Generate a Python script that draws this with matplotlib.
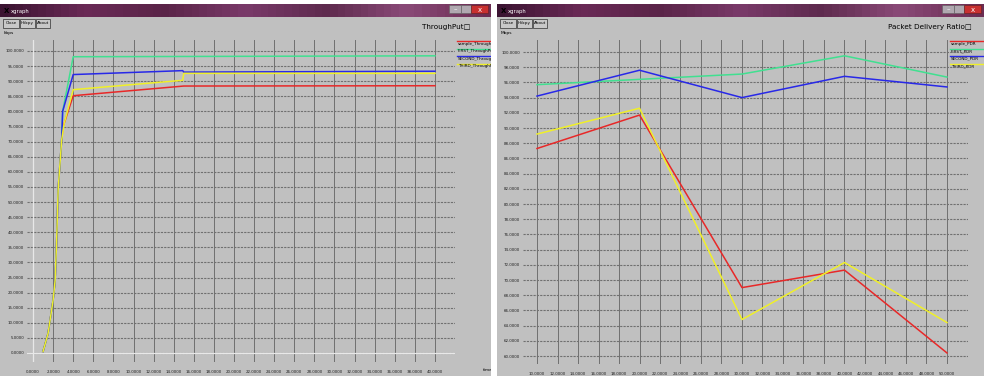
"""Two xgraph windows: ThroughPut vs time and Packet Delivery Ratio."""

import matplotlib
matplotlib.use("Agg")
import matplotlib.pyplot as plt
import matplotlib.patches as mpatches
from matplotlib.colors import LinearSegmentedColormap
import numpy as np

W, H = 984, 376

# ---- data: ThroughPut (kbps) vs time ----
RAMP_X = [1.0, 1.5, 2.0, 2.2, 2.35, 2.5, 2.85]
RAMP_Y = [0.5, 6.5, 17.5, 24.0, 37.0, 54.0, 70.5]

SAMPLE_TP_X = RAMP_X + [3.0, 4.0, 15.0, 40.0]
SAMPLE_TP_Y = RAMP_Y + [75.0, 85.2, 88.4, 88.5]
FIRST_TP_X = RAMP_X + [2.95, 4.0, 40.0]
FIRST_TP_Y = RAMP_Y + [80.0, 98.1, 98.4]
SECOND_TP_X = RAMP_X + [2.95, 4.0, 14.9, 15.0, 40.0]
SECOND_TP_Y = RAMP_Y + [80.0, 92.2, 93.5, 93.0, 93.3]
THIRD_TP_X = RAMP_X + [3.1, 4.0, 14.9, 15.0, 40.0]
THIRD_TP_Y = RAMP_Y + [76.0, 87.2, 90.3, 92.6, 92.6]

TP_XTICKS = list(range(0, 41, 2))
TP_YTICKS = list(range(0, 101, 5))

# ---- data: Packet Delivery Ratio vs nodes ----
PDR_X = [10, 20, 30, 40, 50]
SAMPLE_PDR = [87.3, 91.7, 69.0, 71.3, 60.4]
FIRST_PDR = [95.7, 96.4, 97.1, 99.5, 96.7]
SECOND_PDR = [94.2, 97.6, 94.0, 96.8, 95.4]
THIRD_PDR = [89.2, 92.6, 64.8, 72.3, 64.4]

PDR_XTICKS = list(range(10, 51, 2))
PDR_YTICKS = list(range(60, 101, 2))

TP_NAMES = ["sample_ThroughPut", "FIRST_ThroughPut", "SECOND_ThroughPut", "THIRD_ThroughPut"]
PDR_NAMES = ["sample_PDR", "FIRST_PDR", "SECOND_PDR", "THIRD_PDR"]

COLORS = ["#e82828", "#40e090", "#2828e8", "#f0f028"]
GRAY = "#c0c0c0"
GRID = "#707070"
FONT = 2.9

TITLEBAR = LinearSegmentedColormap.from_list(
    "titlebar", ["#3c1432", "#6a2a56", "#5a2448", "#7a3a6a", "#5e2a4e", "#8a4a78", "#6a2c52"])

fig = plt.figure(figsize=(W / 100, H / 100), dpi=100)
fig.patch.set_facecolor("white")

bg = fig.add_axes([0, 0, 1, 1])
bg.axis("off")


def px_axes(left, top, right, bottom):
    return fig.add_axes([left / W, 1 - bottom / H, (right - left) / W, (bottom - top) / H])


def draw_window(x0, x1, z, ylab, names):
    bg.add_patch(mpatches.Rectangle((x0, 4), x1 - x0, H - 4, facecolor=GRAY,
                                    edgecolor="none", zorder=z))
    grad = np.linspace(0, 1, 64).reshape(1, -1)
    bg.imshow(grad, extent=(x0, x1, 17, 4), aspect="auto", cmap=TITLEBAR,
              zorder=z + 0.1)
    bg.text(x0 + 4, 11, "X", fontsize=5, color="black", fontweight="bold",
            va="center", zorder=z + 0.2)
    bg.text(x0 + 11, 11, "xgraph", fontsize=3.8, color="white", va="center", zorder=z + 0.2)
    # window controls
    bg.add_patch(mpatches.Rectangle((x1 - 42, 5), 12, 8, facecolor="#b0a8b0",
                                    edgecolor="#606060", lw=0.4, zorder=z + 0.2))
    bg.add_patch(mpatches.Rectangle((x1 - 30, 5), 10, 8, facecolor="#b0a8b0",
                                    edgecolor="#606060", lw=0.4, zorder=z + 0.2))
    bg.add_patch(mpatches.Rectangle((x1 - 20, 5), 17, 8, facecolor="#c83030",
                                    edgecolor="#602020", lw=0.4, zorder=z + 0.2))
    bg.text(x1 - 36, 9.5, "\u2013", fontsize=5, color="white", ha="center", va="center",
            zorder=z + 0.3)
    bg.text(x1 - 11.5, 9.5, "x", fontsize=5, color="white", ha="center", va="center",
            zorder=z + 0.3)
    # buttons
    for bx, bw, lab in [(3, 16, "Close"), (20, 15, "Hdcpy"), (36, 14, "About")]:
        bg.add_patch(mpatches.Rectangle((x0 + bx, 18.5), bw, 9, facecolor="#c8c8c8",
                                        edgecolor="#303030", lw=0.5, zorder=z + 0.2))
        bg.text(x0 + bx + bw / 2, 23, lab, fontsize=3.0, ha="center", va="center",
                zorder=z + 0.3)
    bg.text(x0 + 4, 33, ylab, fontsize=3.2, va="center", zorder=z + 0.2)
    # legend
    for i, name in enumerate(names):
        y = 41 + i * 7.5
        bg.plot([x1 - 34, x1], [y, y], color=COLORS[i], lw=1.0, zorder=z + 0.2)
        bg.text(x1 - 33, y + 2.6, name, fontsize=3.0, va="center", zorder=z + 0.2)


draw_window(0, 491, 1, "kbps", TP_NAMES)
bg.add_patch(mpatches.Rectangle((491, 0), 6, H, facecolor="white", edgecolor="none", zorder=5))
draw_window(497, W, 6, "Mbps", PDR_NAMES)
bg.text(470, 27, "ThroughPut\u25a1", fontsize=5.2, ha="right", va="center", zorder=2)
bg.text(972, 27, "Packet Delivery Ratio\u25a1", fontsize=5.2, ha="right", va="center", zorder=7)
bg.text(483, 370, "time", fontsize=3.2, va="center", zorder=2)
bg.set_xlim(0, W)
bg.set_ylim(H, 0)


def style(ax, xticks, yticks):
    ax.set_facecolor("none")
    for s in ax.spines.values():
        s.set_visible(False)
    ax.set_xticks(xticks)
    ax.set_yticks(yticks)
    ax.set_xticklabels([f"{v:.4f}" for v in xticks])
    ax.set_yticklabels([f"{v:.4f}" for v in yticks])
    ax.tick_params(length=0, labelsize=FONT, colors="#202020", pad=2)
    ax.tick_params(axis="x", pad=6)
    ax.grid(True, axis="x", color=GRID, lw=0.7, ls="-")
    ax.grid(True, axis="y", color=GRID, lw=0.8, ls=(0, (2, 1)))
    ax.set_axisbelow(True)


# left plot: 0 -> px 33, 40 -> px 435 ; 0 -> py 353, 100 -> py 51
axl = px_axes(27, 40, 455, 362)
sx, sy = (435 - 33) / 40, (353 - 51) / 100
axl.set_xlim(-(33 - 27) / sx, 40 + (455 - 435) / sx)
axl.set_ylim(-(362 - 353) / sy, 100 + (51 - 40) / sy)
style(axl, TP_XTICKS, TP_YTICKS)
axl.axvline(0, color="#e8e8e8", lw=0.9, zorder=1)
axl.axhline(0, color="#e8e8e8", lw=0.9, zorder=1)
for xs, ys, c in [(SAMPLE_TP_X, SAMPLE_TP_Y, COLORS[0]), (FIRST_TP_X, FIRST_TP_Y, COLORS[1]),
                  (SECOND_TP_X, SECOND_TP_Y, COLORS[2]), (THIRD_TP_X, THIRD_TP_Y, COLORS[3])]:
    axl.plot(xs, ys, color=c, lw=1.1, zorder=3)

# right plot: 10 -> px 537, 50 -> px 947 ; 60 -> py 356, 100 -> py 52
axr = px_axes(523, 40, 968, 364)
sx, sy = (947 - 537) / 40, (356 - 52) / 40
axr.set_xlim(10 - (537 - 523) / sx, 50 + (968 - 947) / sx)
axr.set_ylim(60 - (364 - 356) / sy, 100 + (52 - 40) / sy)
style(axr, PDR_XTICKS, PDR_YTICKS)
for ys, c in zip([SAMPLE_PDR, FIRST_PDR, SECOND_PDR, THIRD_PDR], COLORS):
    axr.plot(PDR_X, ys, color=c, lw=1.1, zorder=3)

fig.savefig("out.png", dpi=100, facecolor="white")
